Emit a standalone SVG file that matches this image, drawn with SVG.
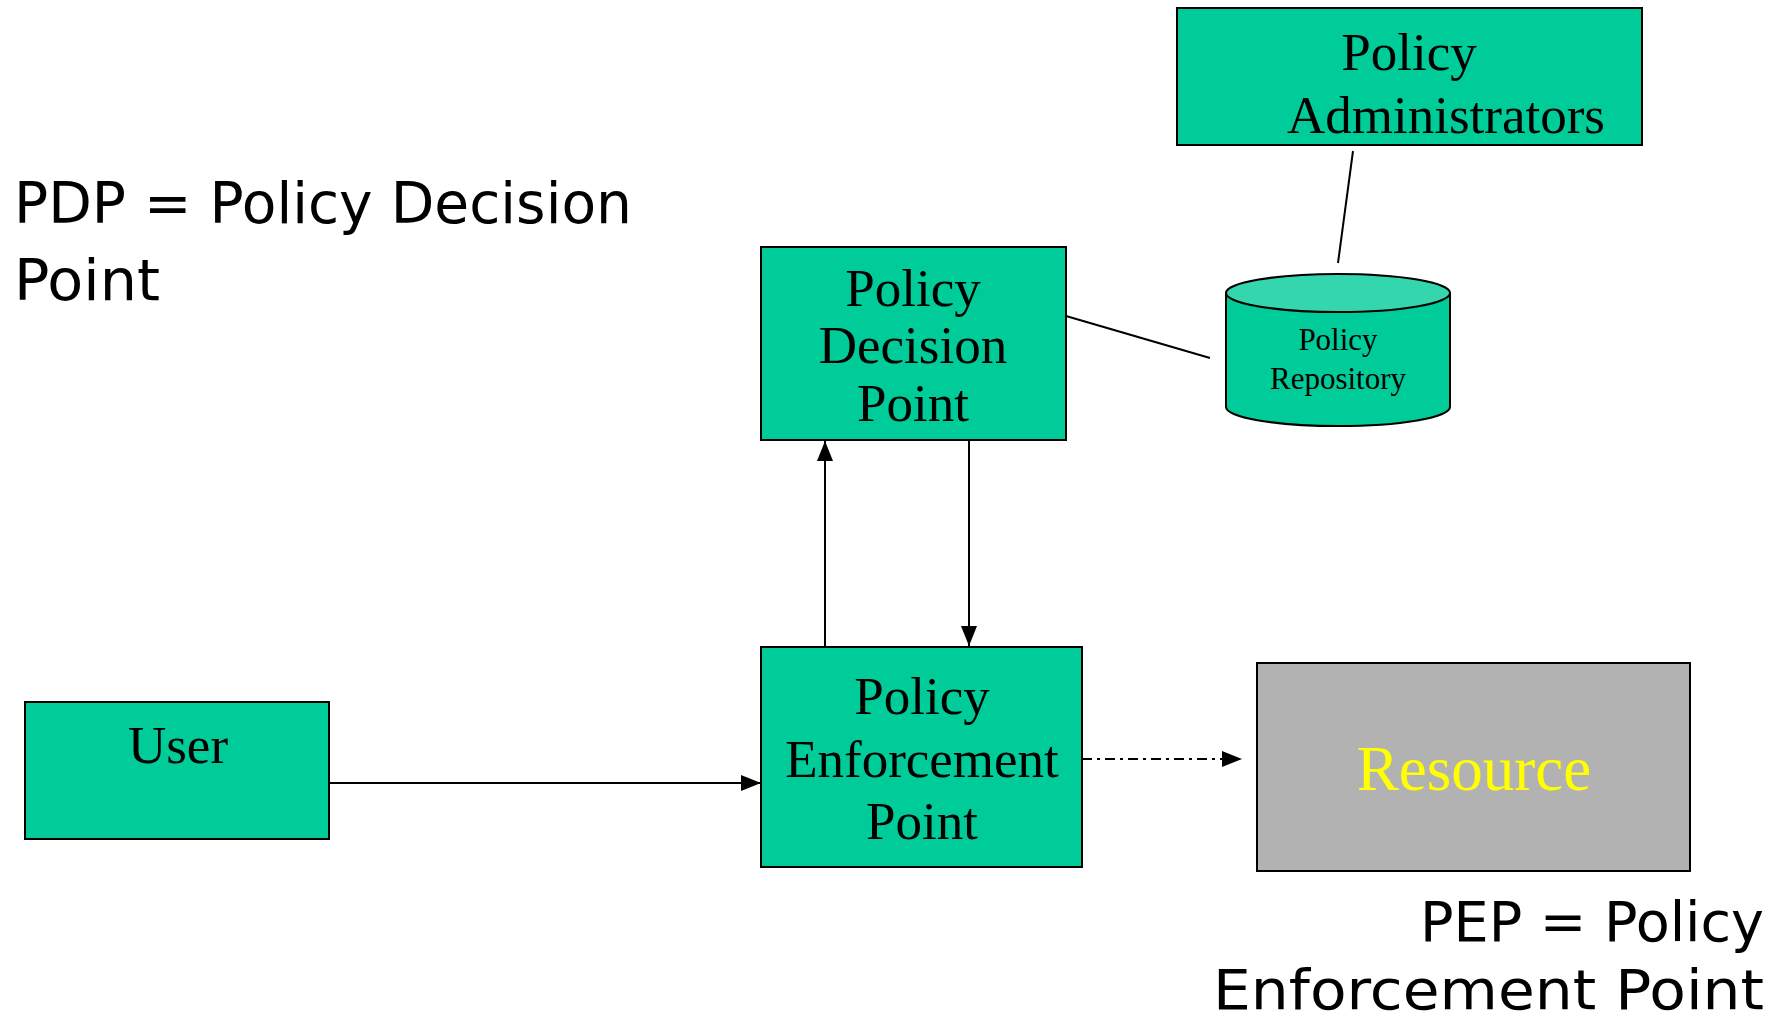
<svg xmlns="http://www.w3.org/2000/svg" width="1778" height="1024" viewBox="0 0 1778 1024">
<style>
.box{fill:#00cc99;stroke:#000;stroke-width:2}
.t{font-family:"Liberation Serif","Times New Roman",serif;font-size:53px;fill:#000;text-anchor:middle}
.c{font-family:"DejaVu Sans",sans-serif;font-size:57px;fill:#000}
.ln{stroke:#000;stroke-width:2;fill:none}
</style>
<defs>
<marker id="ah2" viewBox="0 0 10 10" refX="10" refY="5" markerWidth="20" markerHeight="20" markerUnits="userSpaceOnUse" orient="auto">
<path d="M0,1 L10,5 L0,9 z" fill="#000"/>
</marker>
</defs>
<rect width="1778" height="1024" fill="#fff"/>
<g id="legend-pdp">
<text class="c" x="14" y="223" textLength="618" lengthAdjust="spacingAndGlyphs">PDP = Policy Decision</text>
<text class="c" x="14" y="300" textLength="146" lengthAdjust="spacingAndGlyphs">Point</text>
</g>
<g id="legend-pep">
<text class="c" x="1420" y="941" textLength="344" lengthAdjust="spacingAndGlyphs" style="font-size:56px">PEP = Policy</text>
<text class="c" x="1213" y="1009" textLength="551" lengthAdjust="spacingAndGlyphs" style="font-size:56px">Enforcement Point</text>
</g>
<g id="connectors">
<line class="ln" x1="1353" y1="151" x2="1338" y2="263"/>
<line class="ln" x1="1066" y1="316" x2="1210" y2="358"/>
<line class="ln" x1="329" y1="783" x2="761" y2="783" marker-end="url(#ah2)"/>
<line class="ln" x1="825" y1="647" x2="825" y2="441" marker-end="url(#ah2)"/>
<line class="ln" x1="969" y1="440" x2="969" y2="646" marker-end="url(#ah2)"/>
<line class="ln" x1="1082" y1="759" x2="1242" y2="759" stroke-dasharray="10,5,3,5" marker-end="url(#ah2)"/>
</g>
<g id="policy-administrators">
<rect class="box" x="1177" y="8" width="465" height="137"/>
<text class="t" x="1409" y="70">Policy</text>
<text class="t" x="1287" y="133" style="text-anchor:start">Administrators</text>
</g>
<g id="pdp">
<rect class="box" x="761" y="247" width="305" height="193"/>
<text class="t" x="913" y="306">Policy</text>
<text class="t" x="913" y="363">Decision</text>
<text class="t" x="913" y="421">Point</text>
</g>
<g id="policy-repository">
<path d="M1226,293 L1226,407 A112,19 0 0 0 1450,407 L1450,293" fill="#00cc99" stroke="#000" stroke-width="2"/>
<ellipse cx="1338" cy="293" rx="112" ry="19" fill="#33d6ad" stroke="#000" stroke-width="2"/>
<text class="t" x="1338" y="350" style="font-size:31px">Policy</text>
<text class="t" x="1338" y="389" style="font-size:31px">Repository</text>
</g>
<g id="pep">
<rect class="box" x="761" y="647" width="321" height="220"/>
<text class="t" x="922" y="714">Policy</text>
<text class="t" x="922" y="777">Enforcement</text>
<text class="t" x="922" y="839">Point</text>
</g>
<g id="user">
<rect class="box" x="25" y="702" width="304" height="137"/>
<text class="t" x="178" y="763">User</text>
</g>
<g id="resource">
<rect x="1257" y="663" width="433" height="208" fill="#b2b2b2" stroke="#000" stroke-width="2"/>
<text class="t" x="1474" y="790" style="font-size:63px;fill:#ffff00">Resource</text>
</g>
</svg>
